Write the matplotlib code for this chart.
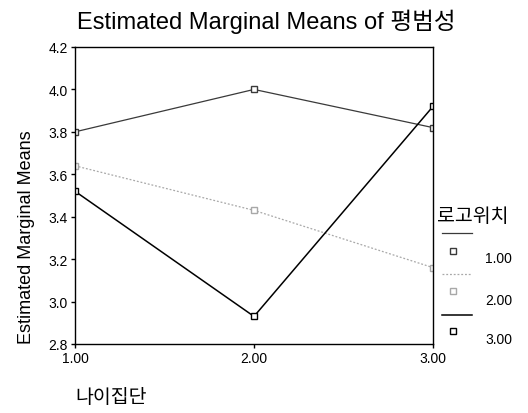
import matplotlib
matplotlib.use("Agg")
import matplotlib.pyplot as plt
from matplotlib.lines import Line2D

plt.rcParams["font.family"] = ["Liberation Sans", "Noto Sans CJK KR", "DejaVu Sans"]

# 데이터
age_groups = [1.0, 2.0, 3.0]
x_ticklabels = ["1.00", "2.00", "3.00"]
logo_levels = ["1.00", "2.00", "3.00"]
means_logo1 = [3.80, 4.00, 3.82]
means_logo2 = [3.64, 3.43, 3.16]
means_logo3 = [3.52, 2.93, 3.92]
y_ticks = [2.8, 3.0, 3.2, 3.4, 3.6, 3.8, 4.0, 4.2]

# 스타일
STYLES = [
    dict(color="#3a3a3a", linestyle="-", linewidth=0.9, mec="#3a3a3a"),
    dict(color="#a8a8a8", linestyle=(0, (1.5, 1.5)), linewidth=0.9, mec="#a8a8a8"),
    dict(color="#000000", linestyle="-", linewidth=1.1, mec="#000000"),
]

fig = plt.figure(figsize=(5.28, 4.14), dpi=100)
ax = fig.add_axes([75 / 528, 1 - 345 / 414, (433 - 75) / 528, (345 - 48) / 414])

for vals, st in zip([means_logo1, means_logo2, means_logo3], STYLES):
    ax.plot(age_groups, vals, color=st["color"], linestyle=st["linestyle"],
            linewidth=st["linewidth"], marker="s", markersize=5,
            markerfacecolor="white", markeredgecolor=st["mec"], markeredgewidth=1.0)

ax.set_xlim(1.0, 3.0)
ax.set_ylim(2.8, 4.2)
ax.set_yticks(y_ticks)
ax.set_yticklabels([f"{v:.1f}" for v in y_ticks], fontsize=10)
ax.set_xticks(age_groups)
ax.set_xticklabels(x_ticklabels, fontsize=10)
ax.tick_params(axis="both", length=3, width=1.0, pad=2)
for sp in ax.spines.values():
    sp.set_linewidth(1.0)

fig.text(266 / 528, 1 - 22 / 414, "Estimated Marginal Means of 평범성",
         ha="center", va="center", fontsize=17)
fig.text(27 / 528, 1 - 237 / 414, "Estimated Marginal Means", rotation=90,
         ha="center", va="center", fontsize=13)
fig.text(75 / 528, 1 - 398 / 414, "나이집단", ha="left", va="center", fontsize=14,
         family=["Noto Sans CJK KR"])

# 범례 (SPSS 스타일: 선 위, 마커 아래, 라벨 오른쪽)
fig.text(437 / 528, 1 - 217 / 414, "로고위치", ha="left", va="center", fontsize=14,
         family=["Noto Sans CJK KR"])
line_y = [234, 275, 316]
mark_y = [252, 292, 332]
lab_y = [259, 301, 340]
for lvl, st, ly, my, ty in zip(logo_levels, STYLES, line_y, mark_y, lab_y):
    fig.add_artist(Line2D([442 / 528, 472 / 528], [1 - ly / 414, 1 - ly / 414],
                          color=st["color"], linestyle=st["linestyle"],
                          linewidth=st["linewidth"]))
    fig.add_artist(Line2D([453 / 528], [1 - my / 414], marker="s", markersize=5,
                          markerfacecolor="white", markeredgecolor=st["mec"],
                          markeredgewidth=1.0, linestyle="none"))
    fig.text(485 / 528, 1 - ty / 414, lvl, ha="left", va="center", fontsize=10)

fig.savefig("out.png", dpi=100)
